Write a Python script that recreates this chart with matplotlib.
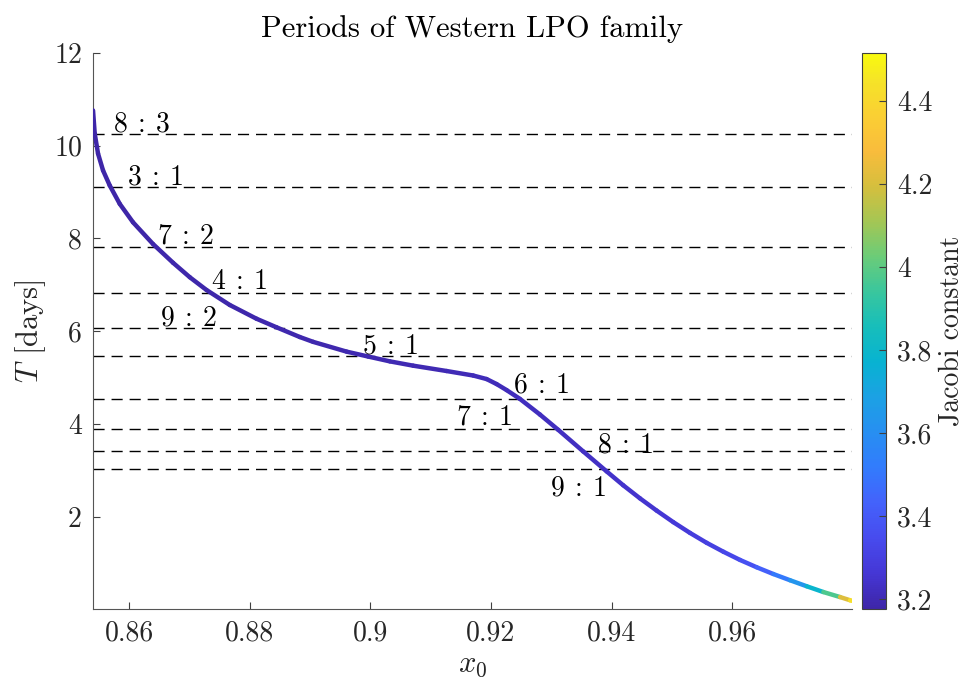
import numpy as np
import matplotlib.pyplot as plt
from matplotlib.collections import LineCollection
from matplotlib.colors import LinearSegmentedColormap, Normalize
from matplotlib.ticker import FuncFormatter

plt.rcParams['font.family'] = 'cmr10'
plt.rcParams['mathtext.fontset'] = 'cm'
plt.rcParams['axes.formatter.use_mathtext'] = True

# Western LPO family: initial x, period (days), Jacobi constant
x0 = [0.85403, 0.85431, 0.85486, 0.85569, 0.85680, 0.85846, 0.86066, 0.86398,
      0.86730, 0.87007, 0.87284, 0.87670, 0.88113, 0.88444, 0.88831, 0.89051,
      0.89605, 0.89963, 0.90323, 0.90710, 0.91264, 0.91705, 0.91927, 0.92093,
      0.92259, 0.92479, 0.92811, 0.93114, 0.93529, 0.93917, 0.94192, 0.94469,
      0.94746, 0.95022, 0.95299, 0.95576, 0.95852, 0.96128, 0.96405, 0.96680,
      0.96957, 0.97234, 0.97509, 0.97786, 0.97952, 0.97985]
T = [10.758, 10.260, 9.827, 9.465, 9.141, 8.745, 8.348, 7.879,
     7.476, 7.165, 6.890, 6.567, 6.271, 6.087, 5.877, 5.773,
     5.563, 5.457, 5.353, 5.260, 5.145, 5.048, 4.972, 4.864,
     4.734, 4.545, 4.208, 3.879, 3.413, 2.983, 2.684, 2.403,
     2.139, 1.890, 1.658, 1.444, 1.253, 1.076, 0.918, 0.773,
     0.639, 0.509, 0.385, 0.277, 0.208, 0.195]
C = [3.177, 3.177, 3.178, 3.178, 3.179, 3.180, 3.181, 3.182,
     3.183, 3.184, 3.185, 3.186, 3.187, 3.188, 3.190, 3.191,
     3.193, 3.195, 3.197, 3.200, 3.204, 3.208, 3.211, 3.212,
     3.214, 3.217, 3.221, 3.225, 3.231, 3.238, 3.244, 3.251,
     3.259, 3.268, 3.280, 3.295, 3.315, 3.345, 3.390, 3.460,
     3.560, 3.700, 3.870, 4.080, 4.350, 4.516]

# resonance periods (days) and labels
res_T = [10.245, 9.107, 7.806, 6.830, 6.072, 5.464, 4.553, 3.903, 3.415, 3.036]
res_labels = ['8:3', '3:1', '7:2', '4:1', '9:2', '5:1', '6:1', '7:1', '8:1', '9:1']
label_x = [0.8573, 0.8597, 0.8646, 0.8736, 0.8652, 0.8986, 0.9236, 0.9142, 0.9375, 0.9297]
label_T = [10.30, 9.17, 7.90, 6.92, 6.13, 5.52, 4.69, 3.99, 3.39, 2.46]

# parula-like colormap
parula = LinearSegmentedColormap.from_list('parula', [
    (0.000, (0.2422, 0.1504, 0.6603)),
    (0.063, (0.2706, 0.2141, 0.8354)),
    (0.127, (0.2810, 0.2955, 0.9340)),
    (0.190, (0.2640, 0.3840, 0.9850)),
    (0.254, (0.1959, 0.4840, 0.9899)),
    (0.317, (0.1540, 0.5602, 0.9464)),
    (0.381, (0.1082, 0.6325, 0.8931)),
    (0.444, (0.0298, 0.7006, 0.8200)),
    (0.508, (0.0898, 0.7444, 0.7313)),
    (0.571, (0.2250, 0.7774, 0.6164)),
    (0.635, (0.4226, 0.8000, 0.4688)),
    (0.698, (0.6453, 0.7770, 0.3290)),
    (0.762, (0.8400, 0.7487, 0.2400)),
    (0.825, (0.9769, 0.7367, 0.2353)),
    (0.889, (0.9808, 0.8141, 0.2011)),
    (0.952, (0.9625, 0.8927, 0.1536)),
    (1.000, (0.9763, 0.9831, 0.0538)),
])

fig = plt.figure(figsize=(9.69, 6.91), dpi=100)
ax = fig.add_axes([0.0960, 0.1187, 0.7833, 0.8050])
cax = fig.add_axes([0.8896, 0.1187, 0.0248, 0.8050])

for t in res_T:
    ax.axhline(t, color='k', lw=1.0, linestyle=(0, (8, 5)), zorder=1)

pts = np.column_stack([x0, T]).reshape(-1, 1, 2)
segs = np.concatenate([pts[:-1], pts[1:]], axis=1)
cvals = np.array(C)
norm = Normalize(vmin=min(C), vmax=max(C))
lc = LineCollection(segs, cmap=parula, norm=norm, linewidths=3.2,
                    capstyle='round', joinstyle='round', zorder=3)
lc.set_array(0.5 * (cvals[:-1] + cvals[1:]))
ax.add_collection(lc)

for lab, lx, ly in zip(res_labels, label_x, label_T):
    a, b = lab.split(':')
    ax.text(lx, ly, r'$' + a + r'\::\:' + b + '$', fontsize=20,
            va='baseline', ha='left', zorder=4)

ax.set_xlim(min(x0), max(x0))
ax.set_ylim(0.02, 12)
ax.set_xticks([0.86, 0.88, 0.90, 0.92, 0.94, 0.96])
ax.set_yticks([2, 4, 6, 8, 10, 12])
fmt = FuncFormatter(lambda v, _: f'{v:g}')
ax.xaxis.set_major_formatter(fmt)
ax.yaxis.set_major_formatter(fmt)
ax.tick_params(direction='in', length=5, width=0.8, colors='#404040',
               labelcolor='#262626', labelsize=20, pad=8)
for s in ['top', 'right']:
    ax.spines[s].set_visible(False)
for s in ['left', 'bottom']:
    ax.spines[s].set_color('#555555')
    ax.spines[s].set_linewidth(0.8)

ax.set_title('Periods of Western LPO family', fontsize=22, pad=11)
ax.set_xlabel('$x_0$', fontsize=22, color='#262626')
ax.set_ylabel('$T$ [days]', fontsize=22, color='#262626')

sm = plt.cm.ScalarMappable(cmap=parula, norm=norm)
cb = fig.colorbar(sm, cax=cax)
cb.set_ticks([3.2, 3.4, 3.6, 3.8, 4.0, 4.2, 4.4])
cb.ax.yaxis.set_major_formatter(fmt)
cb.ax.tick_params(direction='in', length=5, width=0.8, colors='#404040',
                  labelcolor='#262626', labelsize=20, pad=8)
cb.outline.set_edgecolor('#404040')
cb.outline.set_linewidth(0.8)
cb.set_label('Jacobi constant', fontsize=20, color='#262626', labelpad=4)

fig.savefig('out.png', dpi=100)
